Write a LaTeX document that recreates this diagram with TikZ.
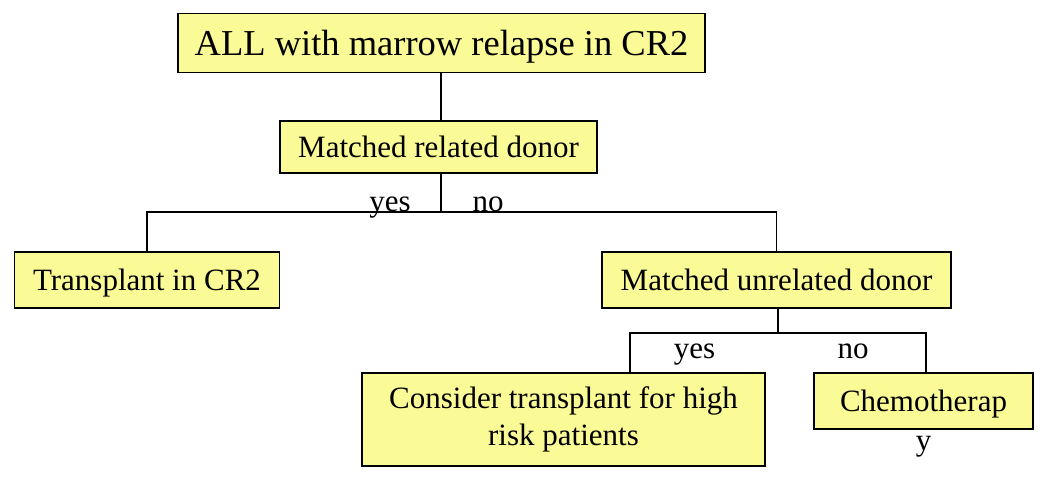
\documentclass[tikz,border=0pt]{standalone}
\usepackage{fontspec}
\setmainfont{Liberation Serif}
\usetikzlibrary{positioning}
\definecolor{blassgelb}{RGB}{250,250,150}
\tikzset{kasten/.style={rectangle,draw,line width=1.5pt,fill=blassgelb,inner sep=0,align=center,font=\fontsize{31}{37}\selectfont},
	titel/.style={font=\fontsize{36.5}{42}\selectfont},
	antwort/.style={inner sep=0,font=\fontsize{31}{37}\selectfont},
	linie/.style={line width=1.5pt} }

\begin{document}
\begin{tikzpicture}[x=1pt,y=-1pt]
  \useasboundingbox (0,0) rectangle (1050,480);

  \node (all) [kasten,titel,text depth=0pt,minimum width=527pt,minimum height=59pt] at (441.5,43) {ALL with marrow relapse in CR2};
  \node (related) [kasten,text depth=0pt,minimum width=317pt,minimum height=52pt] at (438.5,147) {Matched related donor};
  \node (transplant) [kasten,text depth=0pt,minimum width=265pt,minimum height=56pt] at (147,280) {Transplant in CR2};
  \node (unrelated) [kasten,text depth=0pt,minimum width=349pt,minimum height=56pt] at (776.5,280) {Matched unrelated donor};
  \node (consider) [kasten,minimum width=403pt,minimum height=93pt] at (563.5,419.5) {Consider transplant for high\\risk patients};
  \node (chemo) [kasten,text depth=0pt,minimum width=219pt,minimum height=56pt] at (923.5,401) {Chemotherap};
  \node (chemorest) [antwort,below=6pt of chemo] {y};

  % Verzweigungen
  \coordinate (gabel1) at (441,212);
  \coordinate (gabel2) at (778,333);

  \draw [linie] (all.south -| gabel1) -- (related.north -| gabel1);
  \draw [linie] (related.south -| gabel1) -- (gabel1);
  \draw [linie] (transplant.north) |- (gabel1) -| (unrelated.north);
  \draw [linie] (unrelated.south -| gabel2) -- (gabel2);
  \draw [linie] ([xshift=66.5pt]consider.north) |- (gabel2) -| ([xshift=2.5pt]chemo.north);

  \node (ja1) [antwort,anchor=base] at (390,211) {yes};
  \node (nein1) [antwort,anchor=base] at (488,211) {no};
  \node (ja2) [antwort,anchor=base] at (694.5,358) {yes};
  \node (nein2) [antwort,anchor=base] at (853,358) {no};
\end{tikzpicture}
\end{document}
